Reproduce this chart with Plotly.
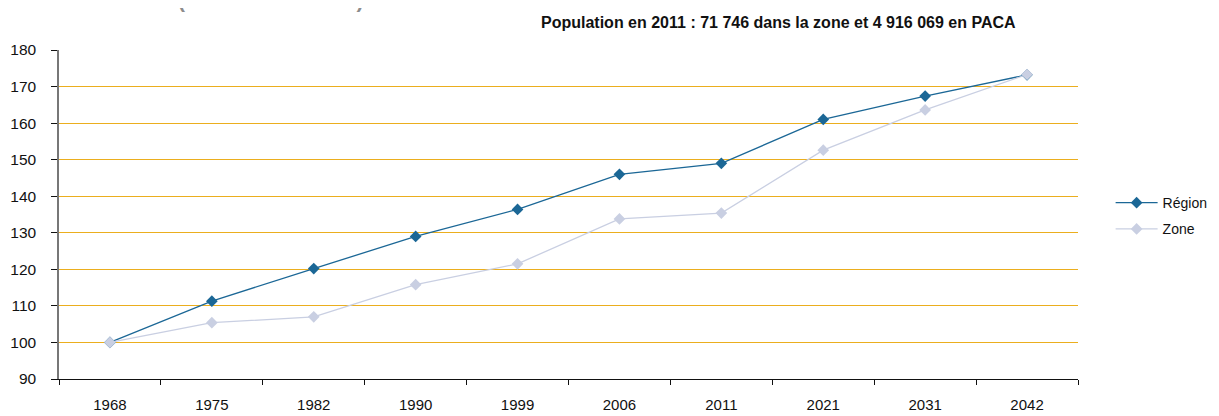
import plotly.graph_objects as go

years = ["1968", "1975", "1982", "1990", "1999", "2006", "2011", "2021", "2031", "2042"]
region = [100, 111.3, 120.2, 129.0, 136.4, 146.0, 149.0, 161.0, 167.4, 173.2]
zone = [100, 105.4, 107.0, 115.8, 121.5, 133.8, 135.4, 152.6, 163.6, 173.3]
subtitle = "Population en 2011 : 71 746 dans la zone et 4 916 069 en PACA"
title_cut = "(base 100 en 1968)"

fig = go.Figure()
fig.add_trace(go.Scatter(x=years, y=region, name="Région", mode="lines+markers",
                         legendgroup="r",
                         line=dict(color="#1B6796", width=1.3),
                         marker=dict(symbol="diamond", size=9, color="#1B6796")))
fig.add_trace(go.Scatter(x=years, y=zone, name="Zone", mode="lines+markers",
                         legendgroup="z",
                         line=dict(color="#C9CFE2", width=1.3),
                         marker=dict(symbol="diamond", size=9, color="#C9CFE2")))

fig.update_layout(
    width=1211, height=408,
    margin=dict(l=51, r=141, t=42, b=37, autoexpand=False),
    paper_bgcolor="white", plot_bgcolor="white",
    font=dict(family="Liberation Sans, Arial", size=15, color="#111"),
    showlegend=True,
    legend=dict(xref="container", yref="container", x=0.9105, y=0.49,
                xanchor="left", yanchor="middle",
                font=dict(size=14, color="#111"), tracegroupgap=5,
                itemwidth=42),
    xaxis=dict(type="category", range=[-0.5, 9.5], showgrid=False, automargin=False,
               showline=True, linecolor="#111", linewidth=1,
               ticks="outside", tickson="boundaries", ticklen=5, tickcolor="#111",
               ticklabelstandoff=12, tickfont=dict(size=15, color="#111")),
    yaxis=dict(range=[90, 180], dtick=10, tick0=90, showgrid=True, automargin=False,
               gridcolor="#EBAE1E", gridwidth=1, zeroline=False,
               showline=True, linecolor="#777", linewidth=1.5,
               ticks="outside", ticklen=6, tickcolor="#111",
               ticklabelstandoff=12, tickfont=dict(size=15.5, color="#111")),
)
fig.add_annotation(text="<b>" + subtitle + "</b>", xref="paper", yref="paper",
                   x=0.941, y=1.0, yshift=28, xanchor="right", yanchor="middle",
                   showarrow=False, font=dict(size=16, color="#111"))
fig.add_annotation(text="<b>" + title_cut + "</b>", xref="paper", yref="paper",
                   x=0.115, y=1.0, yshift=36, xanchor="left", yanchor="bottom",
                   showarrow=False, font=dict(size=21, color="#8C8C8C"))
fig.write_html("out.html")
